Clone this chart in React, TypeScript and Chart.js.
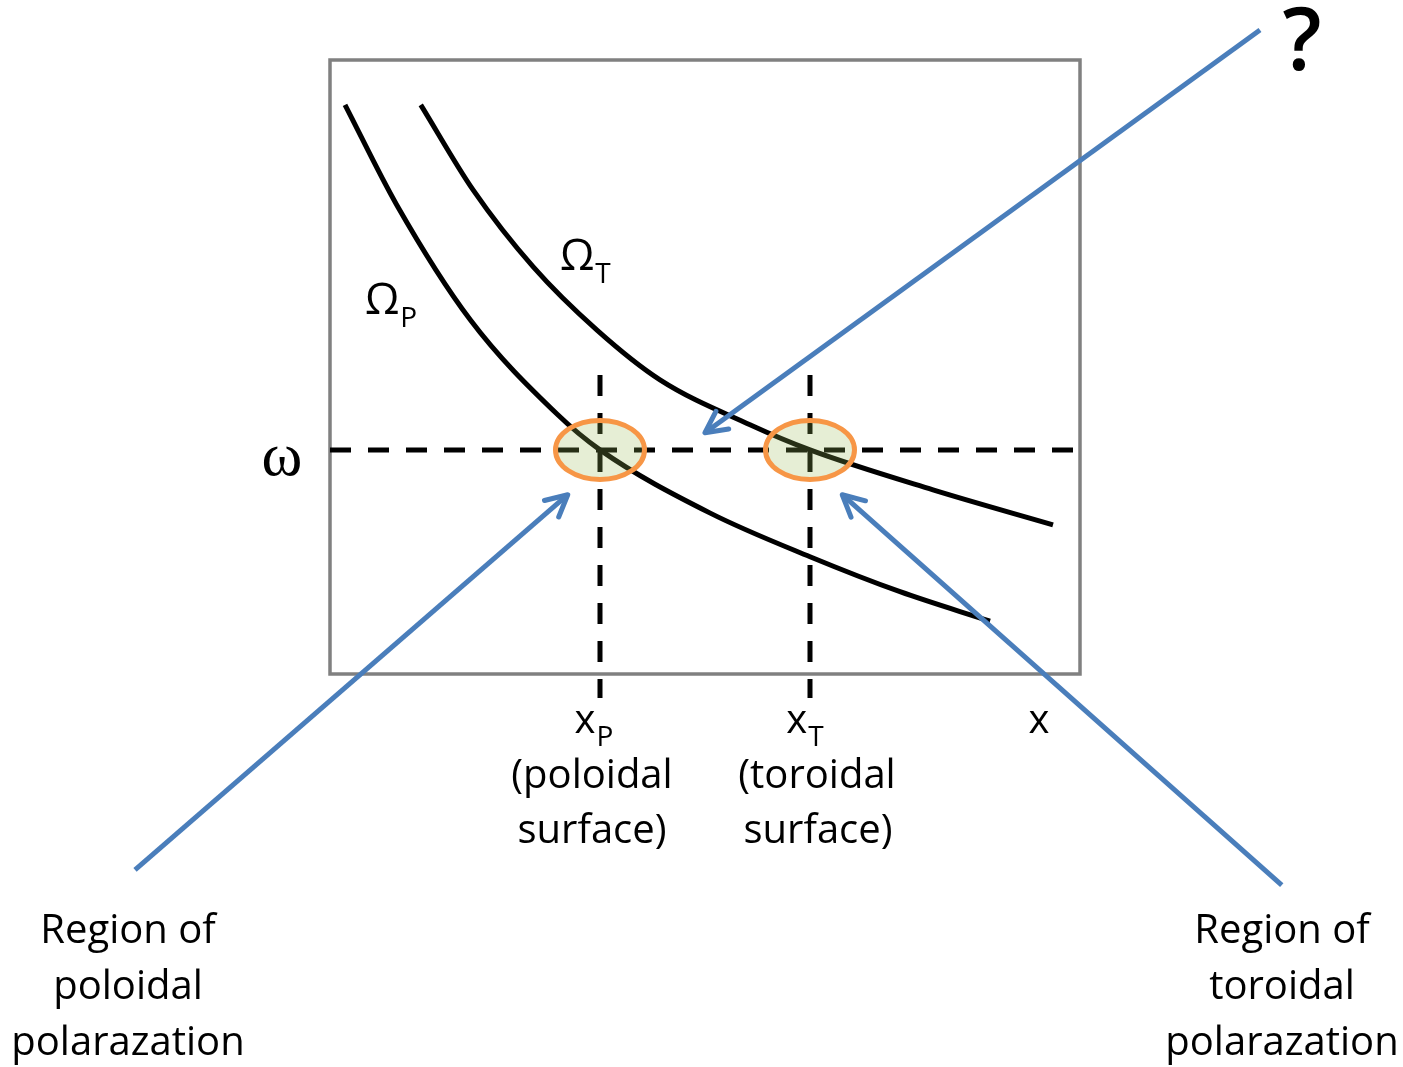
import { useEffect, useRef } from "react";
import { Chart, registerables } from "chart.js";

Chart.register(...registerables);

// Dispersion curves, in plot units (x: 0..10 left to right, frequency: 0..10 bottom to top)
const poloidalX = [0.2, 0.89, 1.87, 3.03, 3.6, 5.07, 6.4, 7.6, 8.8];
const poloidalY = [9.27, 7.64, 5.77, 4.23, 3.65, 2.62, 1.91, 1.34, 0.86];

const toroidalX = [1.21, 1.91, 2.71, 3.56, 4.4, 5.6, 6.4, 8.04, 9.64];
const toroidalY = [9.27, 7.88, 6.63, 5.6, 4.79, 4.06, 3.65, 3.0, 2.43];

// Driving frequency and the two resonance surfaces
const omega = 3.65;
const xPoloidal = 3.6;
const xToroidal = 6.4;
const guideTop = 4.87;
const guideBottom = -0.39;

// Pointer arrows: tail -> tip
const arrowTailX = [12.4, -2.6, 12.69];
const arrowTailY = [10.49, -3.19, -3.44];
const arrowTipX = [5.0, 3.17, 6.83];
const arrowTipY = [3.93, 2.92, 2.92];

const BLUE = "#4a7ebb";
const FONT = '"Open Sans", "Noto Sans", sans-serif';

const pts = (xs: number[], ys: number[]) => xs.map((x, i) => ({ x, y: ys[i] }));

function drawSub(
  ctx: CanvasRenderingContext2D,
  main: string,
  sub: string,
  cx: number,
  base: number,
  mainFont: string,
  subFont: string,
  subDy: number,
  align: "left" | "center"
) {
  ctx.font = mainFont;
  const wm = ctx.measureText(main).width;
  ctx.font = subFont;
  const ws = ctx.measureText(sub).width;
  const gap = 1;
  const left = align === "left" ? cx : cx - (wm + gap + ws) / 2;
  ctx.textAlign = "left";
  ctx.font = mainFont;
  ctx.fillText(main, left, base);
  ctx.font = subFont;
  ctx.fillText(sub, left + wm + gap, base + subDy);
}

const diagramPlugin = {
  id: "diagram",
  beforeDatasetsDraw(chart: any) {
    const { ctx, chartArea: a } = chart;
    ctx.save();
    ctx.strokeStyle = "#808080";
    ctx.lineWidth = 3.5;
    ctx.strokeRect(a.left, a.top, a.right - a.left, a.bottom - a.top);
    ctx.restore();
  },
  afterDatasetsDraw(chart: any) {
    const { ctx } = chart;
    const X = chart.scales.x;
    const Y = chart.scales.y;
    const px = (v: number) => X.getPixelForValue(v);
    const py = (v: number) => Y.getPixelForValue(v);

    ctx.save();
    // resonance regions
    for (const xv of [xPoloidal, xToroidal]) {
      ctx.beginPath();
      ctx.ellipse(px(xv), py(omega), 44.5, 29.5, 0, 0, Math.PI * 2);
      ctx.fillStyle = "rgba(155,187,89,0.25)";
      ctx.fill();
      ctx.lineWidth = 5;
      ctx.strokeStyle = "#f79646";
      ctx.stroke();
    }

    // open arrowheads
    ctx.strokeStyle = BLUE;
    ctx.lineWidth = 5;
    ctx.lineCap = "round";
    ctx.lineJoin = "round";
    for (let i = 0; i < arrowTipX.length; i++) {
      const tx = px(arrowTipX[i]);
      const ty = py(arrowTipY[i]);
      const ang = Math.atan2(py(arrowTailY[i]) - ty, px(arrowTailX[i]) - tx);
      const len = 24;
      const spread = 0.47;
      ctx.beginPath();
      ctx.moveTo(tx + len * Math.cos(ang - spread), ty + len * Math.sin(ang - spread));
      ctx.lineTo(tx, ty);
      ctx.lineTo(tx + len * Math.cos(ang + spread), ty + len * Math.sin(ang + spread));
      ctx.stroke();
    }

    // labels
    ctx.fillStyle = "#000";
    ctx.textBaseline = "alphabetic";
    drawSub(ctx, "Ω", "P", 365, 314, `44px ${FONT}`, `28px ${FONT}`, 13, "left");
    drawSub(ctx, "Ω", "T", 560, 270, `44px ${FONT}`, `28px ${FONT}`, 13, "left");

    ctx.font = '62px "Liberation Serif", "DejaVu Serif", serif';
    ctx.textAlign = "center";
    ctx.fillText("ω", 282, 475);

    drawSub(ctx, "x", "P", px(xPoloidal) - 6, 733, `40px ${FONT}`, `28px ${FONT}`, 13, "center");
    drawSub(ctx, "x", "T", px(xToroidal) - 5, 733, `40px ${FONT}`, `28px ${FONT}`, 13, "center");

    ctx.font = `40px ${FONT}`;
    ctx.textAlign = "center";
    ctx.fillText("(poloidal", 592, 788);
    ctx.fillText("surface)", 592, 843);
    ctx.fillText("(toroidal", 817, 788);
    ctx.fillText("surface)", 818, 843);
    ctx.fillText("x", 1039, 733);

    ctx.font = `600 86px ${FONT}`;
    ctx.fillText("?", 1302, 70);

    ctx.font = `40px ${FONT}`;
    const left = ["Region of", "poloidal", "polarazation"];
    const right = ["Region of", "toroidal", "polarazation"];
    left.forEach((t, i) => ctx.fillText(t, 128, 943 + i * 56));
    right.forEach((t, i) => ctx.fillText(t, 1282, 943 + i * 56));
    ctx.restore();
  },
};

export default function App() {
  const ref = useRef<HTMLCanvasElement>(null);

  useEffect(() => {
    if (!ref.current) return;
    const dash = [21, 17];
    const chart = new Chart(ref.current, {
      type: "scatter",
      data: {
        datasets: [
          ...arrowTipX.map((_, i) => ({
            label: `arrow${i}`,
            data: [
              { x: arrowTailX[i], y: arrowTailY[i] },
              { x: arrowTipX[i], y: arrowTipY[i] },
            ],
            showLine: true,
            borderColor: BLUE,
            borderWidth: 5,
            pointRadius: 0,
            clip: false as any,
            order: 0,
          })),
          {
            label: "ΩP",
            data: pts(poloidalX, poloidalY),
            showLine: true,
            borderColor: "#000",
            borderWidth: 5,
            pointRadius: 0,
            cubicInterpolationMode: "monotone",
            clip: false as any,
            order: 1,
          },
          {
            label: "ΩT",
            data: pts(toroidalX, toroidalY),
            showLine: true,
            borderColor: "#000",
            borderWidth: 5,
            pointRadius: 0,
            cubicInterpolationMode: "monotone",
            clip: false as any,
            order: 1,
          },
          {
            label: "ω",
            data: [
              { x: 0, y: omega },
              { x: 10, y: omega },
            ],
            showLine: true,
            borderColor: "#000",
            borderWidth: 5,
            borderDash: dash,
            borderCapStyle: "butt",
            pointRadius: 0,
            order: 2,
          },
          ...[xPoloidal, xToroidal].map((xv) => ({
            label: `x${xv}`,
            data: [
              { x: xv, y: guideTop },
              { x: xv, y: guideBottom },
            ],
            showLine: true,
            borderColor: "#000",
            borderWidth: 5,
            borderDash: dash,
            borderCapStyle: "butt" as const,
            pointRadius: 0,
            clip: false as any,
            order: 2,
          })),
        ],
      },
      options: {
        responsive: false,
        animation: false,
        events: [],
        layout: { padding: { left: 330, right: 323, top: 60, bottom: 393 } },
        scales: {
          x: { type: "linear", min: 0, max: 10, display: false },
          y: { type: "linear", min: 0, max: 10, display: false },
        },
        plugins: { legend: { display: false }, tooltip: { enabled: false } },
      },
      plugins: [diagramPlugin],
    });
    return () => chart.destroy();
  }, []);

  return (
    <div style={{ position: "fixed", left: 0, top: 0, width: 1403, height: 1067, background: "#fff" }}>
      <canvas ref={ref} width={1403} height={1067} />
    </div>
  );
}
